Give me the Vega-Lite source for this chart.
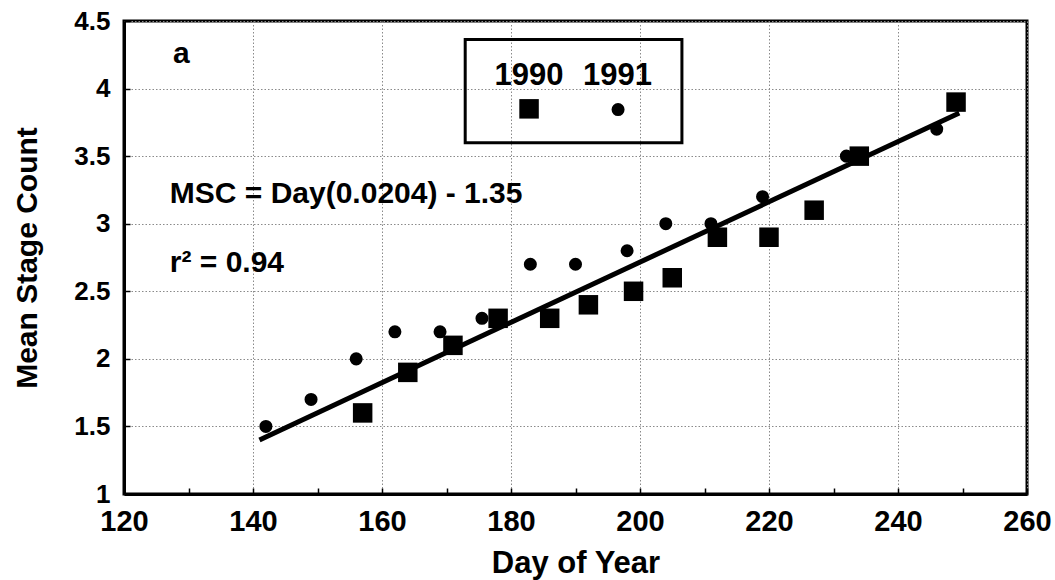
{
  "$schema": "https://vega.github.io/schema/vega-lite/v6.json",
  "width": 903,
  "height": 473,
  "autosize": {"type": "none"},
  "padding": {"left": 124, "top": 21, "right": 28, "bottom": 86},
  "background": "white",
  "config": {
    "view": {"stroke": "black", "strokeWidth": 3},
    "font": "Liberation Sans",
    "axis": {
      "domainColor": "black",
      "domainWidth": 3,
      "tickColor": "black",
      "tickWidth": 1.5,
      "tickSize": -6,
      "gridColor": "#8a8a8a",
      "gridDash": [1.5, 2],
      "gridWidth": 1,
      "labelColor": "black",
      "labelFont": "Liberation Sans",
      "labelFontWeight": "bold",
      "titleFont": "Liberation Sans",
      "titleFontWeight": "bold",
      "titleColor": "black",
      "labelFlush": false,
      "labelOverlap": false
    }
  },
  "datasets": {
    "pts": [
      {"year": "1991", "day": 142, "msc": 1.5},
      {"year": "1991", "day": 149, "msc": 1.7},
      {"year": "1991", "day": 156, "msc": 2.0},
      {"year": "1991", "day": 162, "msc": 2.2},
      {"year": "1991", "day": 169, "msc": 2.2},
      {"year": "1991", "day": 175.5, "msc": 2.3},
      {"year": "1991", "day": 183, "msc": 2.7},
      {"year": "1991", "day": 190, "msc": 2.7},
      {"year": "1991", "day": 198, "msc": 2.8},
      {"year": "1991", "day": 204, "msc": 3.0},
      {"year": "1991", "day": 211, "msc": 3.0},
      {"year": "1991", "day": 219, "msc": 3.2},
      {"year": "1991", "day": 232, "msc": 3.5},
      {"year": "1991", "day": 246, "msc": 3.7},
      {"year": "1990", "day": 157, "msc": 1.6},
      {"year": "1990", "day": 164, "msc": 1.9},
      {"year": "1990", "day": 171, "msc": 2.1},
      {"year": "1990", "day": 178, "msc": 2.3},
      {"year": "1990", "day": 186, "msc": 2.3},
      {"year": "1990", "day": 192, "msc": 2.4},
      {"year": "1990", "day": 199, "msc": 2.5},
      {"year": "1990", "day": 205, "msc": 2.6},
      {"year": "1990", "day": 212, "msc": 2.9},
      {"year": "1990", "day": 220, "msc": 2.9},
      {"year": "1990", "day": 227, "msc": 3.1},
      {"year": "1990", "day": 234, "msc": 3.5},
      {"year": "1990", "day": 249, "msc": 3.9}
    ],
    "fit": [
      {"day": 141, "msc": 1.4},
      {"day": 249.5, "msc": 3.82}
    ],
    "legendBox": [
      {"x1": 172.9, "x2": 206.5, "y1": 3.6, "y2": 4.363}
    ],
    "legendSym": [
      {"year": "1990", "day": 182.8, "msc": 3.85},
      {"year": "1991", "day": 196.6, "msc": 3.845}
    ],
    "legendTxt": [
      {"label": "1990", "day": 182.8, "msc": 4.03},
      {"label": "1991", "day": 196.5, "msc": 4.03}
    ],
    "notes": [
      {"label": "a", "day": 127.6, "msc": 4.19},
      {"label": "MSC = Day(0.0204) - 1.35", "day": 127.1, "msc": 3.156},
      {"label": "r² = 0.94", "day": 127.1, "msc": 2.64}
    ]
  },
  "layer": [
    {
      "data": {"name": "pts"},
      "mark": {"type": "point", "filled": true, "color": "black", "opacity": 1},
      "encoding": {
        "x": {
          "field": "day", "type": "quantitative",
          "scale": {"domain": [120, 260], "nice": false, "zero": false},
          "axis": {
            "title": "Day of Year",
            "titleFontSize": 31,
            "titlePadding": 12,
            "labelFontSize": 29,
            "labelPadding": 19,
            "values": [120, 130, 140, 150, 160, 170, 180, 190, 200, 210, 220, 230, 240, 250, 260],
            "labelExpr": "datum.value % 20 == 0 ? '' + datum.value : ''",
            "gridOpacity": {"condition": {"test": "datum.value % 20 == 0", "value": 1}, "value": 0}
          }
        },
        "y": {
          "field": "msc", "type": "quantitative",
          "scale": {"domain": [1, 4.5], "nice": false, "zero": false},
          "axis": {
            "title": "Mean Stage Count",
            "titleFontSize": 30,
            "titlePadding": 31,
            "labelFontSize": 26,
            "labelPadding": 20,
            "values": [1, 1.25, 1.5, 1.75, 2, 2.25, 2.5, 2.75, 3, 3.25, 3.5, 3.75, 4, 4.25, 4.5],
            "labelExpr": "(datum.value * 2) % 1 == 0 ? '' + datum.value : ''",
            "gridOpacity": {"condition": {"test": "(datum.value * 2) % 1 == 0", "value": 1}, "value": 0}
          }
        },
        "shape": {"field": "year", "type": "nominal", "scale": {"domain": ["1990", "1991"], "range": ["square", "circle"]}, "legend": null},
        "size": {"field": "year", "type": "nominal", "scale": {"domain": ["1990", "1991"], "range": [380, 170]}, "legend": null}
      }
    },
    {
      "data": {"name": "fit"},
      "mark": {"type": "line", "color": "black", "strokeWidth": 5, "strokeCap": "butt"},
      "encoding": {
        "x": {"field": "day", "type": "quantitative"},
        "y": {"field": "msc", "type": "quantitative"}
      }
    },
    {
      "data": {"name": "legendBox"},
      "mark": {"type": "rect", "fill": null, "fillOpacity": 0, "stroke": "black", "strokeWidth": 3},
      "encoding": {
        "x": {"field": "x1", "type": "quantitative"},
        "x2": {"field": "x2"},
        "y": {"field": "y1", "type": "quantitative"},
        "y2": {"field": "y2"}
      }
    },
    {
      "data": {"name": "legendSym"},
      "mark": {"type": "point", "filled": true, "color": "black", "opacity": 1},
      "encoding": {
        "x": {"field": "day", "type": "quantitative"},
        "y": {"field": "msc", "type": "quantitative"},
        "shape": {"field": "year", "type": "nominal", "legend": null},
        "size": {"field": "year", "type": "nominal", "legend": null}
      }
    },
    {
      "data": {"name": "legendTxt"},
      "mark": {"type": "text", "font": "Liberation Sans", "fontWeight": "bold", "fontSize": 31, "color": "black", "align": "center", "baseline": "alphabetic"},
      "encoding": {
        "x": {"field": "day", "type": "quantitative"},
        "y": {"field": "msc", "type": "quantitative"},
        "text": {"field": "label"}
      }
    },
    {
      "data": {"name": "notes"},
      "mark": {"type": "text", "font": "Liberation Sans", "fontWeight": "bold", "fontSize": 30, "color": "black", "align": "left", "baseline": "alphabetic"},
      "encoding": {
        "x": {"field": "day", "type": "quantitative"},
        "y": {"field": "msc", "type": "quantitative"},
        "text": {"field": "label"}
      }
    }
  ]
}
